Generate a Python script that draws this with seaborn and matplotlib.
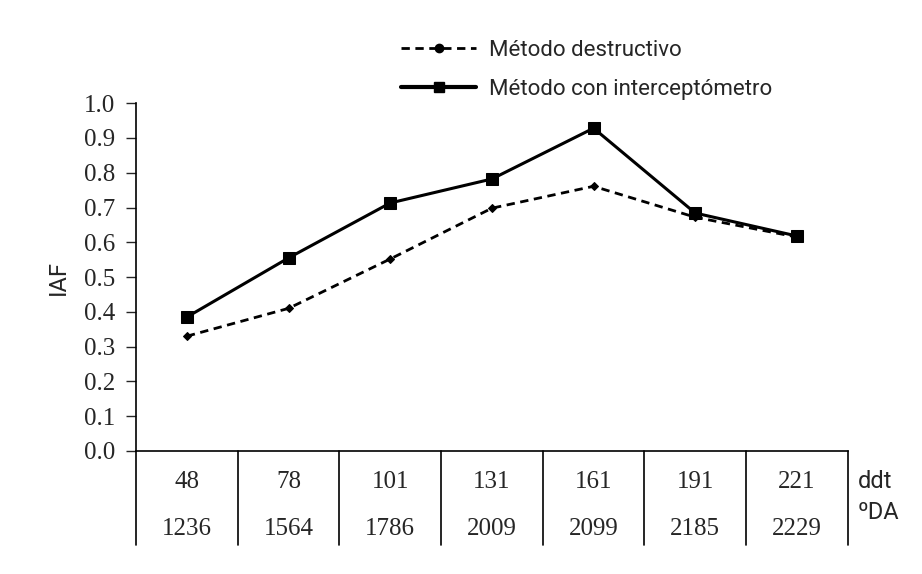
import numpy as np
import matplotlib
matplotlib.use("Agg")
import matplotlib.pyplot as plt
import matplotlib.transforms as mtransforms
from matplotlib.lines import Line2D
import pandas as pd
import seaborn as sns

ddt = ["48", "78", "101", "131", "161", "191", "221"]
grados_da = ["1236", "1564", "1786", "2009", "2099", "2185", "2229"]
destructivo = [0.33, 0.41, 0.552, 0.698, 0.761, 0.672, 0.615]
interceptometro = [0.385, 0.555, 0.713, 0.782, 0.928, 0.684, 0.618]

sns.set_style("white")
plt.rcParams['font.family'] = ['Liberation Serif', 'DejaVu Serif']
sans = ['Roboto', 'DejaVu Sans']

pos = np.arange(len(ddt))
df = pd.DataFrame({"pos": pos, "dest": destructivo, "inter": interceptometro})

fig = plt.figure(figsize=(9.22, 5.74), dpi=100)
ax = fig.add_axes([0.1475, 0.2143, 0.772, 0.606])

sns.lineplot(data=df, x="pos", y="inter", ax=ax, color="black", lw=2.2,
             marker="s", markersize=8, markeredgecolor="black", clip_on=False)
sns.lineplot(data=df, x="pos", y="dest", ax=ax, color="black", lw=2,
             linestyle=(0, (3, 2)), marker="D", markersize=4.5,
             markeredgecolor="black", clip_on=False)

ax.set_xlim(-0.5, len(ddt) - 0.5)
ax.set_ylim(0, 1.0)
ax.set_yticks(np.arange(0, 1.01, 0.1))
ax.set_yticklabels([f"{v:.1f}" for v in np.arange(0, 1.01, 0.1)], fontsize=18)
ax.set_xticks([])
ax.set_xlabel("")
ax.set_ylabel("IAF", fontsize=17, family=sans, labelpad=10)
ax.tick_params(axis="y", direction="out", length=7, width=1, left=True, pad=8)
for s in ["top", "right"]:
    ax.spines[s].set_visible(False)
for s in ["left", "bottom"]:
    ax.spines[s].set_color("black")
    ax.spines[s].set_linewidth(1.2)
ax.spines["left"].set_bounds(0, 1.0)

# table below the axis
trans = mtransforms.blended_transform_factory(ax.transData, ax.transAxes)
bottom = -0.27
for b in np.arange(-0.5, len(ddt), 1.0):
    ax.plot([b, b], [0, bottom], transform=trans, color="black", lw=1.2, clip_on=False)
for i in range(len(ddt)):
    ax.text(pos[i], -0.09, ddt[i], transform=trans, ha="center", va="center", fontsize=18)
    ax.text(pos[i], -0.225, grados_da[i], transform=trans, ha="center", va="center", fontsize=18)
ax.text(len(ddt) - 0.4, -0.088, "ddt", transform=trans, ha="left", va="center",
        fontsize=17, family=sans)
ax.text(len(ddt) - 0.4, -0.177, "ºDA", transform=trans, ha="left", va="center",
        fontsize=17, family=sans)

handles = [
    Line2D([], [], color="black", lw=2, linestyle=(0, (3, 2)), marker="o", markersize=6),
    Line2D([], [], color="black", lw=3, marker="s", markersize=7),
]
ax.legend(handles, ["Método destructivo", "Método con interceptómetro"],
          loc="upper left", bbox_to_anchor=(0.413, 0.965), bbox_transform=fig.transFigure,
          frameon=False, handlelength=3.4, handletextpad=0.55, labelspacing=0.8,
          prop={"family": sans, "size": 16})

fig.savefig("out.png", dpi=100)
